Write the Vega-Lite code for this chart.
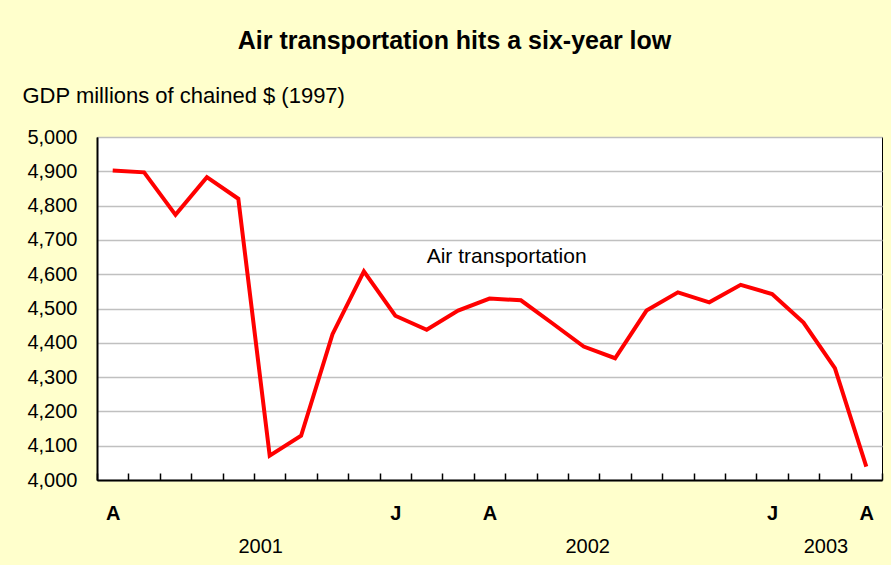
{
  "$schema": "https://vega.github.io/schema/vega-lite/v6.json",
  "width": 785,
  "height": 343,
  "autosize": {"type": "none"},
  "padding": {"left": 97, "top": 137, "right": 9, "bottom": 85},
  "background": "#FFFFCC",
  "title": {
    "text": "Air transportation hits a six-year low",
    "fontSize": 25,
    "fontWeight": "bold",
    "color": "black",
    "anchor": "middle",
    "frame": "group",
    "dx": -35,
    "offset": 30
  },
  "datasets": {
    "gdp": [
      {"month": "2001-04", "gdp": 4902},
      {"month": "2001-05", "gdp": 4897},
      {"month": "2001-06", "gdp": 4773},
      {"month": "2001-07", "gdp": 4883},
      {"month": "2001-08", "gdp": 4820},
      {"month": "2001-09", "gdp": 4071},
      {"month": "2001-10", "gdp": 4129},
      {"month": "2001-11", "gdp": 4425},
      {"month": "2001-12", "gdp": 4608},
      {"month": "2002-01", "gdp": 4479},
      {"month": "2002-02", "gdp": 4438},
      {"month": "2002-03", "gdp": 4494},
      {"month": "2002-04", "gdp": 4529},
      {"month": "2002-05", "gdp": 4524},
      {"month": "2002-06", "gdp": 4457},
      {"month": "2002-07", "gdp": 4389},
      {"month": "2002-08", "gdp": 4355},
      {"month": "2002-09", "gdp": 4494},
      {"month": "2002-10", "gdp": 4547},
      {"month": "2002-11", "gdp": 4518},
      {"month": "2002-12", "gdp": 4569},
      {"month": "2003-01", "gdp": 4542},
      {"month": "2003-02", "gdp": 4459},
      {"month": "2003-03", "gdp": 4326},
      {"month": "2003-04", "gdp": 4039}
    ],
    "note": [
      {"month": "2002-02", "gdp": 4651, "label": "Air transportation"}
    ]
  },
  "encoding": {
    "y": {
      "field": "gdp",
      "type": "quantitative",
      "scale": {"domain": [4000, 5000], "nice": false, "zero": false},
      "axis": {
        "title": "GDP millions of chained $ (1997)",
        "titleAngle": 0,
        "titleAlign": "left",
        "titleBaseline": "middle",
        "titleX": -75,
        "titleY": -42,
        "titleFontSize": 22,
        "titleFontWeight": "normal",
        "titleColor": "black",
        "values": [4000, 4100, 4200, 4300, 4400, 4500, 4600, 4700, 4800, 4900, 5000],
        "format": ",.0f",
        "ticks": false,
        "tickSize": 0,
        "labelPadding": 20,
        "labelFontSize": 20,
        "labelColor": "black",
        "gridColor": "#C0C0C0",
        "gridWidth": 1.5,
        "domainColor": "black",
        "domainWidth": 2
      }
    }
  },
  "layer": [
    {
      "data": {"name": "gdp"},
      "mark": {"type": "point", "opacity": 0},
      "encoding": {
        "x": {
          "field": "month",
          "type": "ordinal",
          "scale": {"type": "band", "paddingInner": 0, "paddingOuter": 0},
          "bandPosition": 0.5,
          "axis": {
            "orient": "bottom",
            "title": null,
            "domain": false,
            "ticks": false,
            "grid": false,
            "labelAngle": 0,
            "labelFontWeight": "normal",
            "labelFontSize": 20,
            "labelColor": "black",
            "labelPadding": 56,
            "labelOffset": {"condition": {"test": "datum.value == '2002-07'", "value": 4}, "value": -9},
            "labelOverlap": false,
            "labelExpr": "datum.value == '2001-09' ? '2001' : datum.value == '2002-07' ? '2002' : datum.value == '2003-03' ? '2003' : ''"
          }
        }
      }
    },
    {
      "data": {"name": "gdp"},
      "mark": {"type": "line", "color": "#FF0000", "strokeWidth": 4},
      "encoding": {
        "x": {
          "field": "month",
          "type": "ordinal",
          "bandPosition": 0.5,
          "axis": {
            "orient": "bottom",
            "title": null,
            "tickBand": "extent",
            "tickSize": -7,
            "tickColor": "black",
            "tickWidth": 1.5,
            "domainColor": "black",
            "domainWidth": 2,
            "grid": false,
            "labelAngle": 0,
            "labelFontWeight": "bold",
            "labelFontSize": 20,
            "labelColor": "black",
            "labelPadding": 30,
            "labelOverlap": false,
            "labelExpr": "(datum.value == '2001-04' || datum.value == '2002-04' || datum.value == '2003-04') ? 'A' : (datum.value == '2002-01' || datum.value == '2003-01') ? 'J' : ''"
          }
        }
      }
    },
    {
      "data": {"name": "note"},
      "mark": {"type": "text", "align": "left", "baseline": "middle", "fontSize": 21, "color": "black"},
      "encoding": {
        "x": {"field": "month", "type": "ordinal", "bandPosition": 0.5, "axis": null},
        "text": {"field": "label"}
      }
    }
  ],
  "resolve": {"axis": {"x": "independent"}},
  "config": {
    "font": "Liberation Sans",
    "view": {"fill": "white", "stroke": "black", "strokeWidth": 1}
  }
}
